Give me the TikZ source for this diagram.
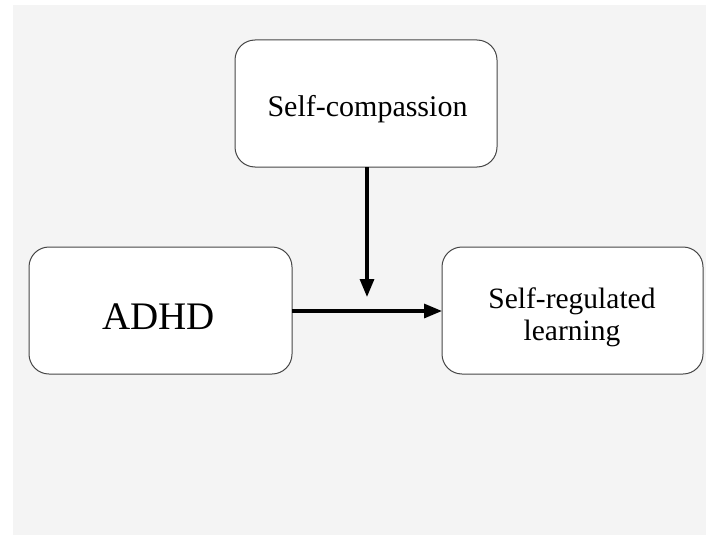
\documentclass[tikz,border=0pt]{standalone}
\usepackage{fontspec}
\setmainfont{Liberation Serif}
\usetikzlibrary{arrows.meta}
\definecolor{bggray}{RGB}{244,244,244}
\definecolor{boxline}{RGB}{70,70,70}
\tikzset{
  box/.style={draw=boxline, line width=1pt, fill=white, rounded corners=20pt, minimum width=#1, minimum height=127pt, inner sep=0pt, outer sep=0pt},
  lbl/.style={inner sep=0pt, outer sep=0pt},
  conn/.style={line width=3.2pt, -{Triangle[length=18pt,width=14pt]}}
}
\begin{document}
\begin{tikzpicture}[x=1pt,y=-1pt]
  \useasboundingbox (0,0) rectangle (706,535);
  \fill[white] (0,0) rectangle (706,535);
  \fill[bggray] (13,5) rectangle (706,535);
  % boxes
  \node[box=262pt] (sc) at (366,103.5) {};
  \node[box=263pt] (adhd) at (160.5,310.5) {};
  \node[box=261pt] (srl) at (572.5,310.5) {};
  % labels
  \node[lbl, anchor=base, font=\fontsize{30}{32}\selectfont] (sct) at (367.5,116) {Self-compassion};
  \node[lbl, anchor=base, font=\fontsize{39}{42}\selectfont] (adhdt) at (158.5,329) {ADHD};
  \node[lbl, anchor=base, font=\fontsize{29.5}{32}\selectfont] (srlt1) at (572,308) {Self-regulated};
  \node[lbl, anchor=base, font=\fontsize{29.5}{32}\selectfont] (srlt2) at (572,340) {learning};
  % connectors
  \coordinate (mod) at (367,297);
  \draw[conn] (sc.south -| mod) -- (mod);
  \draw[conn] (adhd.east |- 0,311) -- (srl.west |- 0,311);
\end{tikzpicture}
\end{document}
